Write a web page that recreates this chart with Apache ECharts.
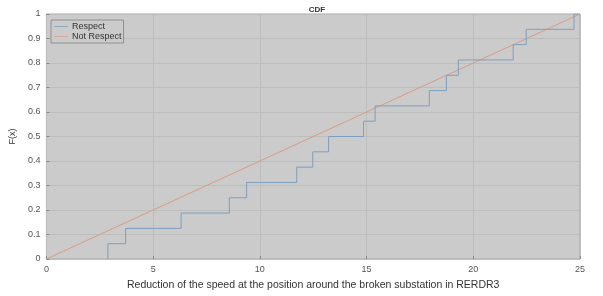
<!DOCTYPE html>
<html lang="en">
<head>
  <meta charset="UTF-8">
  <title>CDF</title>
  <script type="text/javascript" src="https://cdn.jsdelivr.net/npm/echarts@6/dist/echarts.min.js"></script>
  <style>
    html, body { margin: 0; padding: 0; background: #fff; }
    #cdf { width: 603px; height: 296px; }
  </style>
</head>
<body>
  <div id="cdf"></div>
  <script type="text/javascript">
    // jump positions of the empirical CDF and the level reached after each jump
    var jumpX = [2.88, 3.71, 6.31, 8.57, 9.38, 11.73, 12.48, 13.22, 14.86, 15.40, 17.94, 18.74, 19.30, 21.87, 22.48, 24.72, 25];
    var jumpF = [0.0625, 0.125, 0.1875, 0.25, 0.3125, 0.375, 0.4375, 0.5, 0.5625, 0.625, 0.6875, 0.75, 0.8125, 0.875, 0.9375, 1, 1];
    // reference (uniform) cdf end points
    var refX = [0, 25];
    var refF = [0, 1];
    var seriesNames = ['Respect', 'Not Respect'];

    var respectData = [[jumpX[0], 0]];
    jumpX.forEach(function (x, i) { respectData.push([x, jumpF[i]]); });
    var refData = refX.map(function (x, i) { return [x, refF[i]]; });

    var chart = echarts.init(document.getElementById('cdf'), null, { renderer: 'canvas', width: 603, height: 296 });

    var tickColor = '#555';
    var option = {
      animation: false,
      backgroundColor: '#fff',
      title: {
        text: 'CDF',
        left: 312,
        top: 1,
        textAlign: 'center',
        textStyle: { fontSize: 8, fontWeight: 'bold', color: '#333', fontFamily: 'Liberation Sans' }
      },
      legend: {
        data: seriesNames,
        orient: 'vertical',
        left: 51,
        top: 20,
        padding: [2, 2, 2, 3],
        itemGap: 1,
        itemWidth: 14,
        itemHeight: 1,
        icon: 'rect',
        borderColor: '#909090',
        borderWidth: 1,
        backgroundColor: '#cbcbcb',
        textStyle: { fontSize: 9, color: '#333', fontFamily: 'Liberation Sans', padding: [0, 0, 0, -1] }
      },
      grid: {
        left: 45, right: 23, top: 14, bottom: 35,
        show: true,
        backgroundColor: '#cbcbcb',
        borderColor: '#a8a8a8',
        borderWidth: 1
      },
      xAxis: {
        type: 'value',
        min: 0, max: 25, interval: 5,
        name: 'Reduction of the speed at the position around the broken substation in RERDR3',
        nameLocation: 'middle',
        nameGap: 21,
        nameTextStyle: { fontSize: 10.5, color: '#333', fontFamily: 'Liberation Sans' },
        axisLine: { show: false },
        axisTick: { show: true, inside: true, length: 3, lineStyle: { color: '#888' } },
        axisLabel: { fontSize: 9, color: tickColor, margin: 6, fontFamily: 'Liberation Sans' },
        splitLine: { show: true, lineStyle: { color: '#bdbdbd', width: 1 } }
      },
      yAxis: {
        type: 'value',
        min: 0, max: 1, interval: 0.1,
        name: 'F(x)',
        nameLocation: 'middle',
        nameGap: 21,
        nameTextStyle: { fontSize: 9, color: '#333', fontFamily: 'Liberation Sans' },
        axisLine: { show: false },
        axisTick: { show: true, inside: true, length: 3, lineStyle: { color: '#888' } },
        axisLabel: {
          fontSize: 9, color: tickColor, margin: 6, fontFamily: 'Liberation Sans',
          formatter: function (v) { return String(Math.round(v * 10) / 10); }
        },
        splitLine: { show: true, lineStyle: { color: '#bdbdbd', width: 1 } }
      },
      series: [
        {
          name: seriesNames[0],
          type: 'line',
          step: 'end',
          symbol: 'none',
          data: respectData,
          lineStyle: { color: '#7d9fbf', width: 1 },
          itemStyle: { color: '#8fa8c0' },
          z: 3
        },
        {
          name: seriesNames[1],
          type: 'line',
          symbol: 'none',
          data: refData,
          lineStyle: { color: '#d99a84', width: 1 },
          itemStyle: { color: '#d3ab9c' },
          z: 2
        }
      ]
    };
    chart.setOption(option);
  </script>
</body>
</html>
